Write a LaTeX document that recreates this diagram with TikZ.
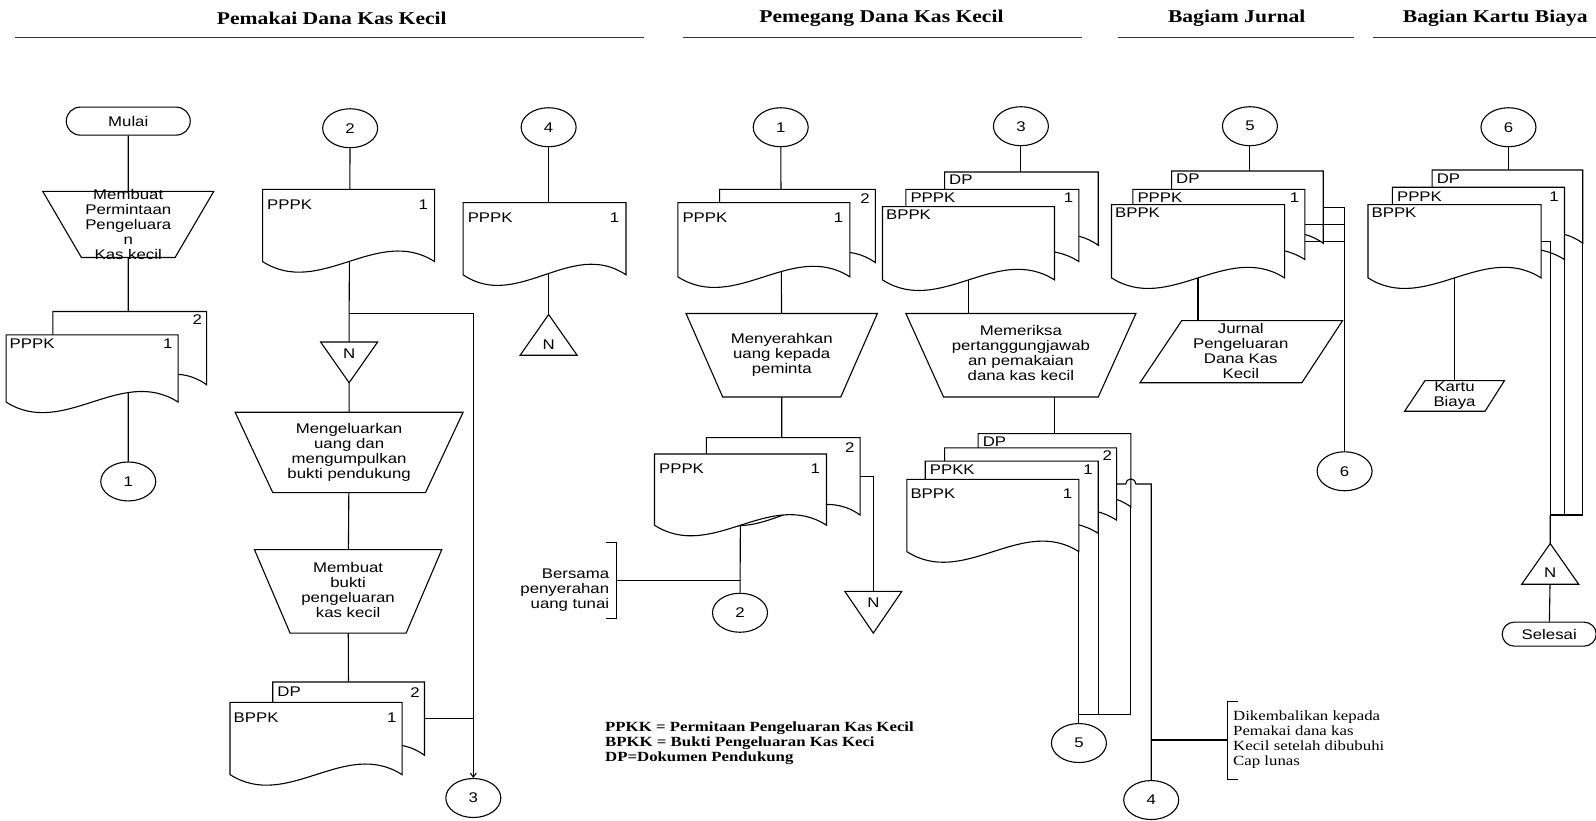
\documentclass[tikz,border=0pt]{standalone}
\usepackage{fontspec}
\setmainfont{Liberation Serif}[FakeStretch=1.2]
\setsansfont{Liberation Sans}[FakeStretch=1.2]
\usetikzlibrary{shapes.geometric,shapes.misc,backgrounds,arrows.meta}

\tikzstyle{konektor} = [ellipse, draw, fill=white, minimum width=55pt, minimum height=39pt, inner sep=0pt, font=\sffamily\fontsize{14}{15}\selectfont]
\tikzstyle{terminal} = [rounded rectangle, draw, fill=white, inner sep=0pt, font=\sffamily\fontsize{14}{15}\selectfont]
\tikzstyle{teks} = [align=center, inner sep=0pt, font=\sffamily\fontsize{14}{15}\selectfont]
\tikzstyle{kode} = [anchor=west, inner sep=0pt, font=\sffamily\fontsize{14}{15}\selectfont]
\tikzstyle{nomor} = [anchor=east, inner sep=0pt, font=\sffamily\fontsize{14}{15}\selectfont]
\tikzstyle{judul} = [inner sep=0pt, font=\rmfamily\bfseries\fontsize{18}{20}\selectfont]
\tikzstyle{garisjudul} = [draw, line width=1.6pt, black!80]
\tikzstyle{catatan} = [inner sep=0pt, align=left, font=\rmfamily\fontsize{14}{15}\selectfont]

% dokumen: nama, x kiri, y atas, x kanan, y bawah
\newcommand{\dokumen}[5]{%
  \pgfmathsetmacro{\dokw}{(#4-#2)/3}
  \filldraw[fill=white] (#2,#3) -- (#4,#3) -- (#4,#5)
    .. controls ({#4-\dokw},{#5-36}) and ({#2+\dokw},{#5+36}) .. (#2,#5) -- cycle;
  \coordinate (#1) at ({(#2+#4)/2},{(#3+#5)/2});
  \coordinate (#1-e) at (#4,{(#3+#5)/2});
}
% operasi manual: x tengah, y atas, y bawah, setengah atas, setengah bawah
\newcommand{\manualop}[5]{%
  \filldraw[fill=white] ({#1-#4},#2) -- ({#1+#4},#2) -- ({#1+#5},#3) -- ({#1-#5},#3) -- cycle;
}
% input manual (jajaran genjang)
\newcommand{\jajar}[6]{%
  \filldraw[fill=white] (#1,#3) -- (#2,#3) -- (#5,#6) -- (#4,#6) -- cycle;
}
% arsip: x tengah, y alas, y puncak, setengah lebar
\newcommand{\segitiga}[4]{%
  \filldraw[fill=white] ({#1-#4},#2) -- ({#1+#4},#2) -- (#1,#3) -- cycle;
}

\begin{document}
\begin{tikzpicture}[x=1.018pt, y=-1.018pt, line width=1.1pt]
    \useasboundingbox (0,0) rectangle (1568,806);

    % judul kolom
    \node[judul] (h1) at (326,18) {Pemakai Dana Kas Kecil};
    \node[judul] (h2) at (866,18) {Pemegang Dana Kas Kecil};
    \node[judul] (h3) at (1215,18) {Bagiam Jurnal};
    \node[judul] (h4) at (1469,18) {Bagian Kartu Biaya};
    \path[garisjudul] (15,37) -- (633,37);
    \path[garisjudul] (671,37) -- (1063,37);
    \path[garisjudul] (1098,37) -- (1330,37);
    \path[garisjudul] (1349,37) -- (1568,37);

    % pemakai dana kas kecil
    \node[terminal, minimum width=124pt, minimum height=28pt] (mulai) at (126,119) {Mulai};
    \manualop{126}{188}{253}{84}{46}
    \node[teks] (buat1) at (126,221) {Membuat\\Permintaan\\Pengeluara\\n\\Kas kecil};
    \dokumen{pppkA2}{52}{306}{203}{378}
    \node[nomor] (tA2) at (199,314) {2};
    \dokumen{pppkA}{6}{329}{175}{395}
    \node[kode] (kA) at (9,338) {PPPK};
    \node[nomor] (tA) at (170,338) {1};
    \node[konektor] (c1a) at (126,473) {1};

    \node[konektor] (c2b) at (344,126) {2};
    \dokumen{pppkB}{258}{186}{427}{257}
    \node[kode] (kB) at (262,201) {PPPK};
    \node[nomor] (tB) at (421,201) {1};
    \coordinate (jB) at (343,308);
    \segitiga{343}{336}{376}{28}
    \node[teks] (nB) at (343,347) {N};
    \manualop{343}{405}{484}{112}{75}
    \node[teks] (keluar) at (343,444) {Mengeluarkan\\uang dan\\mengumpulkan\\bukti pendukung};
    \manualop{342}{540}{622}{92}{57}
    \node[teks] (buktiB) at (342,580) {Membuat\\bukti\\pengeluaran\\kas kecil};
    \dokumen{dpB}{268}{670}{417}{742}
    \node[kode] (kB2) at (272,680) {DP};
    \node[nomor] (tB2) at (413,680) {2};
    \dokumen{bppkB}{226}{690}{395}{761}
    \node[kode] (kB3) at (229,705) {BPPK};
    \node[nomor] (tB3) at (390,705) {1};
    \node[konektor] (c3b) at (465,784) {3};

    \node[konektor] (c4c) at (539,125) {4};
    \dokumen{pppkC}{455}{199}{615}{270}
    \node[kode] (kC) at (459,214) {PPPK};
    \node[nomor] (tC) at (609,214) {1};
    \segitiga{539}{349}{309}{28}
    \node[teks] (nC) at (539,339) {N};

    % pemegang dana kas kecil
    \node[konektor] (c1d) at (767,125) {1};
    \dokumen{pppkD2}{707}{186}{860}{258}
    \node[nomor] (tD2) at (855,195) {2};
    \dokumen{pppkD}{666}{199}{835}{272}
    \node[kode] (kD) at (670,214) {PPPK};
    \node[nomor] (tD) at (829,214) {1};
    \manualop{768}{308}{390}{94}{58}
    \node[teks] (serah) at (768,349) {Menyerahkan\\uang kepada\\peminta};
    \dokumen{pppkD4}{694}{430}{845}{506}
    \node[nomor] (tD4) at (840,440) {2};
    \dokumen{pppkD3}{643}{446}{812}{516}
    \node[kode] (kD3) at (647,460) {PPPK};
    \node[nomor] (tD3) at (806,460) {1};
    \node[konektor] (c2d) at (727,602) {2};
    \coordinate (jD) at (727,570);
    \coordinate (brD) at (606,570);
    \draw (595,533) -- (606,533) -- (606,608) -- (595,608);
    \node[teks, align=right, anchor=east] (bersama) at (599,580) {Bersama\\penyerahan\\uang tunai};
    \segitiga{858}{581}{622}{28}
    \node[teks] (nD) at (858,592) {N};

    \node[konektor] (c3e) at (1003,124) {3};
    \dokumen{dpE}{928}{169}{1079}{241}
    \node[kode] (kE1) at (932,177) {DP};
    \dokumen{pppkE}{890}{186}{1060}{257}
    \node[kode] (kE2) at (894,194) {PPPK};
    \node[nomor] (tE2) at (1055,194) {1};
    \dokumen{bppkE}{867}{203}{1036}{275}
    \node[kode] (kE3) at (870,211) {BPPK};
    \manualop{1003}{308}{390}{113}{76}
    \node[teks] (periksa) at (1003,347) {Memeriksa\\pertanggungjawab\\an pemakaian\\dana kas kecil};
    \dokumen{dpE2}{961}{426}{1111}{498}
    \node[kode] (kE4) at (965,434) {DP};
    \dokumen{pppkE3}{928}{440}{1097}{511}
    \node[nomor] (tE5) at (1093,448) {2};
    \dokumen{ppkkE}{909}{453}{1079}{524}
    \node[kode] (kE6) at (913,461) {PPKK};
    \node[nomor] (tE6) at (1074,461) {1};
    \dokumen{bppkE2}{891}{471}{1060}{542}
    \node[kode] (kE7) at (894,485) {BPPK};
    \node[nomor] (tE7) at (1054,485) {1};
    \node[konektor] (c5e) at (1060,730) {5};
    \node[konektor] (c4e) at (1131,786) {4};
    \coordinate (sE1) at (1079,702);
    \coordinate (sE2) at (1111,702);
    \coordinate (brE) at (1206,727);
    \draw (1216,689) -- (1206,689) -- (1206,766) -- (1216,766);
    \node[catatan, anchor=west] (kembali) at (1211,727) {Dikembalikan kepada\\Pemakai dana kas\\Kecil setelah dibubuhi\\Cap lunas};

    \node[catatan, anchor=west, font=\rmfamily\bfseries\fontsize{14}{15}\selectfont] (ket) at (594,730)
        {PPKK = Permitaan Pengeluaran Kas Kecil\\BPKK = Bukti Pengeluaran Kas Keci\\DP=Dokumen Pendukung};

    % bagian jurnal
    \node[konektor] (c5f) at (1228,124) {5};
    \dokumen{dpF}{1151}{168}{1300}{239}
    \node[kode] (kF1) at (1155,176) {DP};
    \dokumen{pppkF}{1113}{186}{1282}{255}
    \node[kode] (kF2) at (1117,194) {PPPK};
    \node[nomor] (tF2) at (1277,194) {1};
    \dokumen{bppkF}{1092}{201}{1262}{273}
    \node[kode] (kF3) at (1095,209) {BPPK};
    \jajar{1161}{1319}{315}{1120}{1279}{376}
    \node[teks] (jurnal) at (1219,345) {Jurnal\\Pengeluaran\\Dana Kas\\Kecil};
    \node[konektor] (c6f) at (1321,463) {6};

    % bagian kartu biaya
    \node[konektor] (c6g) at (1482,125) {6};
    \dokumen{dpG}{1407}{167}{1555}{239}
    \node[kode] (kG1) at (1411,176) {DP};
    \dokumen{pppkG}{1368}{184}{1537}{255}
    \node[kode] (kG2) at (1372,193) {PPPK};
    \node[nomor] (tG2) at (1532,193) {1};
    \dokumen{bppkG}{1344}{201}{1514}{273}
    \node[kode] (kG3) at (1347,209) {BPPK};
    \jajar{1400}{1478}{374}{1380}{1459}{404}
    \node[teks] (kartu) at (1429,389) {Kartu\\Biaya};
    \coordinate (jG) at (1523,506);
    \segitiga{1523}{574}{534}{28}
    \node[teks] (nG) at (1523,563) {N};
    \node[terminal, minimum width=94pt, minimum height=24pt] (selesai) at (1522,623) {Selesai};

    % garis yang melintas di atas dokumen
    \draw (pppkE3-e) -- ++(9,0) arc (180:360:5) -- (pppkE3-e -| c4e) -- (c4e);
    \draw (pppkF-e) -- (pppkF-e -| c6f);
    \draw (bppkG-e) -| (jG);
    \draw (pppkG-e) -- (pppkG-e |- jG);
    \draw (dpG-e) |- (jG);

    \begin{pgfonlayer}{background}
    \begin{scope}[line width=1.1pt]
    \draw (mulai) -- (buat1.center) -- (c1a);
    \draw (c2b) -- (jB) -- (keluar.center) -- (buktiB.center) -- (dpB);
    \draw[-{Straight Barb[length=4pt,width=6pt]}] (jB) -| (c3b);
    \draw (dpB) -- (dpB -| c3b);
    \draw (c4c) -- (nC);
    \draw (c1d) -- (serah.center) -- (serah.center |- pppkD4);
    \draw (pppkD3) -- (c2d);
    \draw (jD) -- (brD);
    \draw (pppkD4) -| (nD);
    \draw (c3e) -- (c3e |- bppkE);
    \draw (bppkE) -- (bppkE |- periksa);
    \draw (dpE2 |- periksa) -- (dpE2);
    \draw (bppkE2 -| c5e) -- (c5e);
    \draw (ppkkE -| sE1) -- (sE1) -- (sE1 -| c5e);
    \draw (dpE2 -| sE2) -- (sE2) -- (sE1);
    \draw (c4e |- brE) -- (brE);
    \draw (c5f) -- (c5f |- bppkF);
    \draw (bppkF) -- (bppkF |- jurnal);
    \draw (dpF) -| (c6f);
    \draw (bppkF) -| (c6f);
    \draw (c6g) -- (c6g |- bppkG);
    \draw (bppkG) -- (kartu);
    \draw (jG) -- (nG) -- (selesai);
    \end{scope}
    \end{pgfonlayer}
\end{tikzpicture}
\end{document}
